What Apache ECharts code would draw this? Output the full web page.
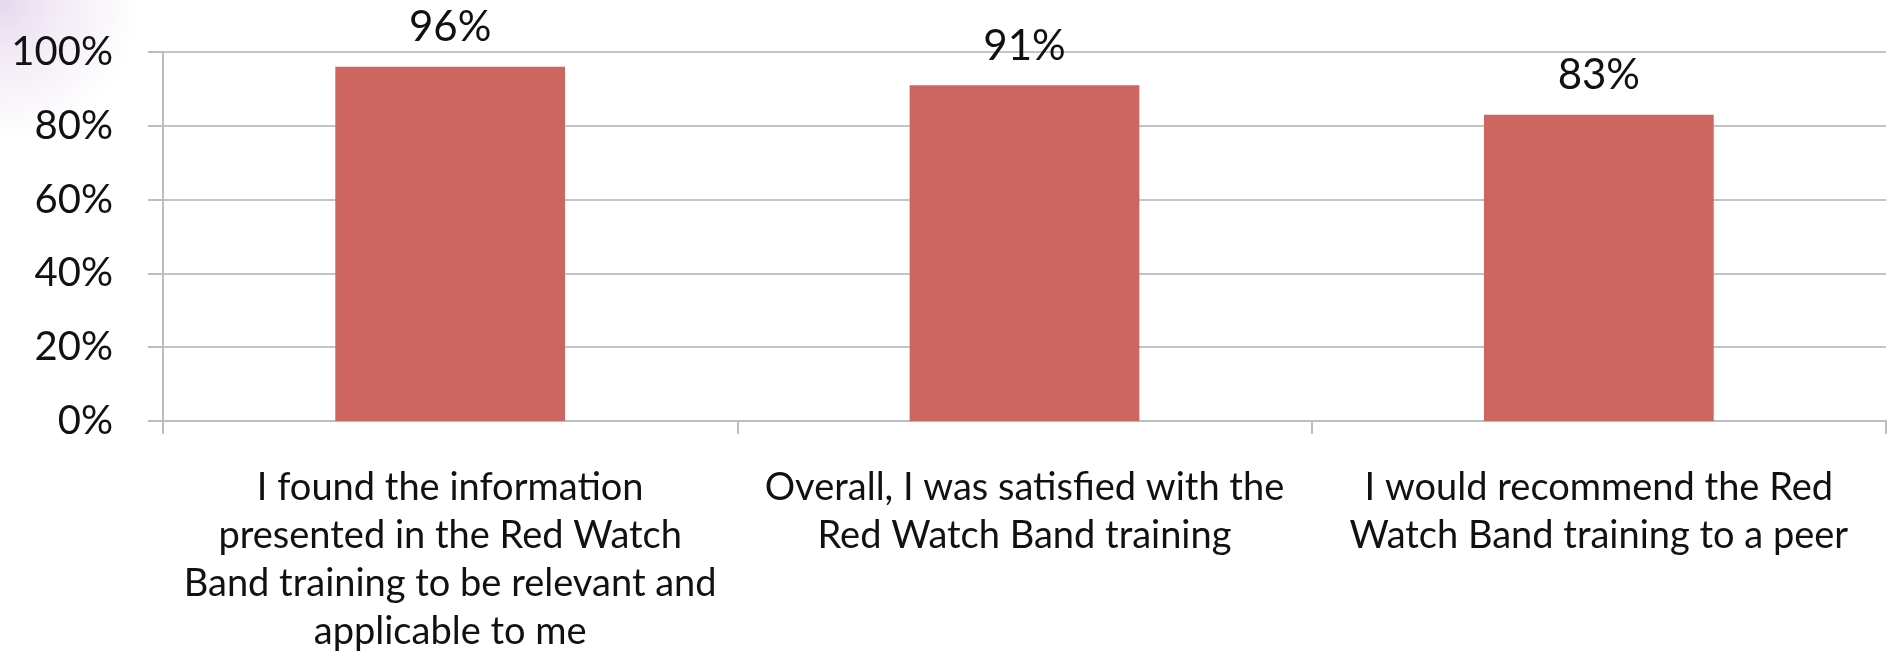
<!DOCTYPE html>
<html>
<head>
<meta charset="utf-8">
<script src="https://cdn.jsdelivr.net/npm/echarts@6/dist/echarts.min.js"></script>
<style>
  html, body { margin: 0; padding: 0; width: 1892px; height: 657px; overflow: hidden;
    background: radial-gradient(circle at 0px 0px, #e6d8ee 0px, #f3ecf6 60px, #ffffff 140px); }
  #chart { width: 1892px; height: 657px; }
</style>
</head>
<body>
<div id="chart"></div>
<script>
const categories = [
  "I found the information\npresented in the Red Watch\nBand training to be relevant and\napplicable to me",
  "Overall, I was satisfied with the\nRed Watch Band training",
  "I would recommend the Red\nWatch Band training to a peer"
];
const values = [96, 91, 83];
const yTicks = [0, 20, 40, 60, 80, 100];

const chart = echarts.init(document.getElementById('chart'));
chart.setOption({
  animation: false,
  backgroundColor: 'transparent',
  grid: { left: 163, right: 6, top: 52, bottom: 236, containLabel: false },
  xAxis: {
    type: 'category',
    data: categories,
    axisLine: { show: true, lineStyle: { color: '#bdbdbd', width: 2 } },
    axisTick: { show: true, length: 13, lineStyle: { color: '#bdbdbd', width: 2 } },
    axisLabel: {
      interval: 0,
      margin: 43,
      fontFamily: 'Lato',
      fontSize: 38,
      lineHeight: 48,
      color: '#111',
      align: 'center'
    }
  },
  yAxis: {
    type: 'value',
    min: yTicks[0],
    max: yTicks[yTicks.length - 1],
    interval: 20,
    axisLine: { show: true, lineStyle: { color: '#bdbdbd', width: 2 } },
    axisTick: { show: true, length: 15, lineStyle: { color: '#bdbdbd', width: 2 } },
    splitLine: { show: true, lineStyle: { color: '#c4c4c4', width: 2 } },
    axisLabel: {
      margin: 50,
      fontFamily: 'Lato',
      fontSize: 40,
      color: '#111',
      formatter: '{value}%'
    }
  },
  series: [{
    type: 'bar',
    data: values,
    barCategoryGap: '60%',
    itemStyle: { color: '#cd6560' },
    label: {
      show: true,
      position: 'top',
      distance: 18,
      fontFamily: 'Lato',
      fontSize: 42,
      color: '#111',
      formatter: '{c}%'
    }
  }]
});
</script>
</body>
</html>
